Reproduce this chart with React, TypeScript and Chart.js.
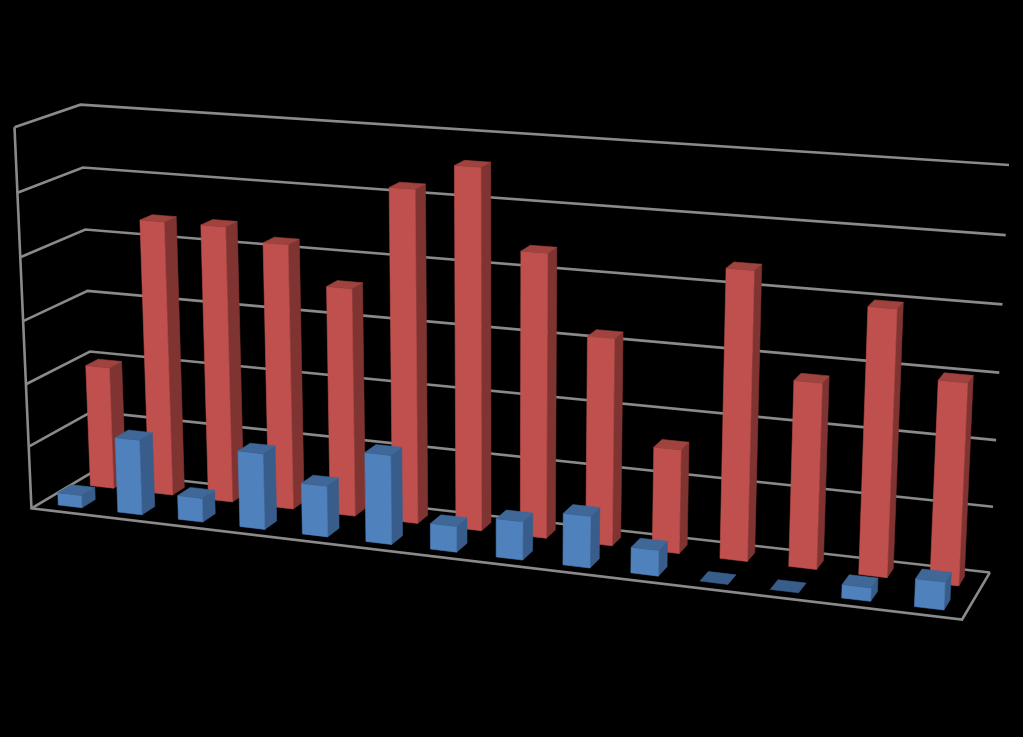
import React, { useEffect, useRef } from "react";
import { Chart, registerables } from "chart.js";

Chart.register(...registerables);

const categories = ["1", "2", "3", "4", "5", "6", "7", "8", "9", "10", "11", "12", "13", "14"];
const blueValues = [0.2, 1.2, 0.38, 1.2, 0.8, 1.39, 0.4, 0.59, 0.79, 0.39, 0, 0, 0.2, 0.41];
const redValues = [1.98, 4.4, 4.4, 4.2, 3.6, 5.2, 5.6, 4.39, 3.19, 1.6, 4.38, 2.81, 3.99, 3.01];
const axisMax = 6;
const axisStep = 1;

type Pt = [number, number];
// Camera calibration: box corner (u, v, w) seen at screen point (sx, sy)
const CALIBRATION: number[][] = [
  [0, 0, 0, 32, 509],
  [1, 0, 0, 962, 619],
  [0, 0, 1, 94, 470],
  [1, 0, 1, 990, 573],
  [0, 1, 0, 14, 127],
  [0, 1, 1, 81, 105],
  [1, 1, 1, 1009, 165],
];

function solve(A: number[][], b: number[]) {
  const n = b.length;
  const M = A.map((r, i) => [...r, b[i]]);
  for (let c = 0; c < n; c++) {
    let p = c;
    for (let r = c + 1; r < n; r++) if (Math.abs(M[r][c]) > Math.abs(M[p][c])) p = r;
    [M[c], M[p]] = [M[p], M[c]];
    for (let r = 0; r < n; r++) {
      if (r === c) continue;
      const f = M[r][c] / M[c][c];
      for (let k = c; k <= n; k++) M[r][k] -= f * M[c][k];
    }
  }
  return M.map((r, i) => r[n] / r[i]);
}

function buildProjection() {
  const S = 1000;
  const rows: number[][] = [];
  const rhs: number[] = [];
  CALIBRATION.forEach(([u, v, w, sx0, sy0]) => {
    const sx = sx0 / S, sy = sy0 / S;
    rows.push([u, v, w, 1, 0, 0, 0, 0, -sx * u, -sx * v, -sx * w]);
    rhs.push(sx);
    rows.push([0, 0, 0, 0, u, v, w, 1, -sy * u, -sy * v, -sy * w]);
    rhs.push(sy);
  });
  const N = 11;
  const AtA = Array.from({ length: N }, (_, i) =>
    Array.from({ length: N }, (_, j) => rows.reduce((s, r) => s + r[i] * r[j], 0))
  );
  const Atb = Array.from({ length: N }, (_, i) => rows.reduce((s, r, q) => s + r[i] * rhs[q], 0));
  const h = solve(AtA, Atb);
  return (u: number, v: number, w: number): Pt => {
    const d = 1 + h[8] * u + h[9] * v + h[10] * w;
    return [
      (S * (h[0] * u + h[1] * v + h[2] * w + h[3])) / d,
      (S * (h[4] * u + h[5] * v + h[6] * w + h[7])) / d,
    ];
  };
}

const project = buildProjection();

const GRID_COLOR = "#8A8A8A";
const ROWS = [
  { zFront: 0.65, zBack: 0.85, front: "#C0504D", side: "#7F3432", top: "#A0433F" },
  { zFront: 0.14, zBack: 0.35, front: "#4F81BD", side: "#385D8A", top: "#3F6797" },
];

const box3d = {
  id: "box3d",
  beforeDatasetsDraw(chart: any) {
    const { ctx, chartArea: a, scales } = chart;
    const yScale = scales.y;
    const vOf = (px: number) => (a.bottom - px) / (a.bottom - a.top);
    ctx.save();
    ctx.strokeStyle = GRID_COLOR;
    ctx.lineWidth = 2.6;
    ctx.lineJoin = "miter";
    const poly = (pts: Pt[]) => {
      ctx.beginPath();
      pts.forEach((p, n) => (n ? ctx.lineTo(p[0], p[1]) : ctx.moveTo(p[0], p[1])));
      ctx.stroke();
    };
    yScale.ticks.forEach((t: any) => {
      const v = vOf(yScale.getPixelForValue(t.value));
      poly([project(0, v, 0), project(0, v, 1), project(1, v, 1)]);
    });
    poly([project(0, 1, 0), project(0, 0, 0), project(1, 0, 0), project(1, 0, 1)]);
    ctx.restore();
  },
  afterDatasetsDraw(chart: any) {
    const { ctx, chartArea: a } = chart;
    const uOf = (px: number) => (px - a.left) / (a.right - a.left);
    const vOf = (px: number) => (a.bottom - px) / (a.bottom - a.top);
    const face = (pts: Pt[], color: string) => {
      ctx.beginPath();
      pts.forEach((p, n) => (n ? ctx.lineTo(p[0], p[1]) : ctx.moveTo(p[0], p[1])));
      ctx.closePath();
      ctx.fillStyle = color;
      ctx.strokeStyle = color;
      ctx.lineWidth = 0.6;
      ctx.fill();
      ctx.stroke();
    };
    ctx.save();
    ROWS.forEach((row, di) => {
      chart.getDatasetMeta(di).data.forEach((bar: any) => {
        const { x, y, base, width } = bar.getProps(["x", "y", "base", "width"], true);
        const u0 = uOf(x - width / 2), u1 = uOf(x + width / 2);
        const v0 = vOf(base), v1 = vOf(y);
        const z0 = row.zFront, z1 = row.zBack;
        if (v1 - v0 > 0.001) {
          face([project(u1, v0, z0), project(u1, v0, z1), project(u1, v1, z1), project(u1, v1, z0)], row.side);
          face([project(u0, v0, z0), project(u1, v0, z0), project(u1, v1, z0), project(u0, v1, z0)], row.front);
        }
        face([project(u0, v1, z0), project(u1, v1, z0), project(u1, v1, z1), project(u0, v1, z1)], v1 - v0 > 0.001 ? row.top : row.side);
      });
    });
    ctx.restore();
  },
};

export default function App() {
  const ref = useRef<HTMLCanvasElement | null>(null);
  useEffect(() => {
    document.body.style.margin = "0";
    document.body.style.background = "#000";
    const chart = new Chart(ref.current as HTMLCanvasElement, {
      type: "bar",
      data: {
        labels: categories,
        datasets: [
          { label: "Back series", data: redValues, backgroundColor: "transparent", grouped: false, categoryPercentage: 1, barPercentage: 0.4 } as any,
          { label: "Front series", data: blueValues, backgroundColor: "transparent", grouped: false, categoryPercentage: 1, barPercentage: 0.4 } as any,
        ],
      },
      options: {
        responsive: false,
        animation: false,
        layout: { padding: 0 },
        plugins: { legend: { display: false }, tooltip: { enabled: false } },
        scales: {
          x: { display: false },
          y: { display: false, min: 0, max: axisMax, ticks: { stepSize: axisStep } },
        },
      },
      plugins: [box3d],
    });
    return () => chart.destroy();
  }, []);
  return (
    <div style={{ width: 1023, height: 737, background: "#000", overflow: "hidden" }}>
      <canvas ref={ref} width={1023} height={737} style={{ display: "block" }} />
    </div>
  );
}
